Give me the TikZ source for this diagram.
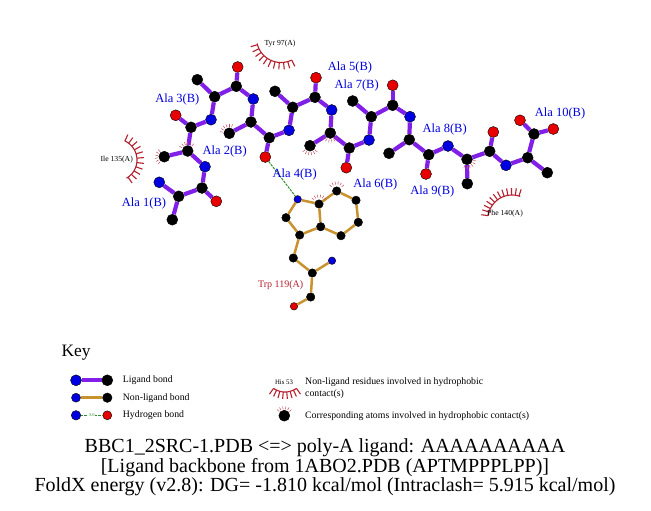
\documentclass[tikz,border=0pt]{standalone}
\usepackage{fontspec}
\setmainfont{Liberation Serif}
\definecolor{ligcol}{HTML}{7F1FE8}
\definecolor{nonligcol}{HTML}{C8922E}
\definecolor{arccol}{HTML}{B4202E}
\definecolor{atomblue}{HTML}{0000E0}
\definecolor{atomred}{HTML}{E60000}
\definecolor{hbcol}{HTML}{2E8B2E}
\tikzset{
	atomC/.style={shape=circle, draw=black, fill=black, inner sep=0pt, minimum size=11pt},
	atomN/.style={atomC, fill=atomblue},
	atomO/.style={atomC, fill=atomred},
	trpC/.style={atomC, minimum size=8.5pt},
	trpN/.style={atomN, minimum size=7.5pt},
	trpO/.style={atomO, minimum size=7.5pt},
	ligbond/.style={draw=ligcol, line width=4.2pt},
	nonligbond/.style={draw=nonligcol, line width=2.5pt},
	hbond/.style={draw=hbcol, dashed, dash pattern=on 2.5pt off 1pt, line width=1pt},
	reslabel/.style={text=atomblue, font=\fontsize{12.5}{13}\selectfont, inner sep=0pt, yshift=-1pt},
	hphoblabel/.style={text=black, font=\fontsize{7.7}{8}\selectfont, inner sep=0pt},
	keylabel/.style={anchor=west, inner sep=0pt, font=\fontsize{9.8}{10}\selectfont},
	titlelabel/.style={inner sep=0pt, font=\fontsize{20}{21}\selectfont, yshift=-1.5pt},
	hphobarc/.style={draw=arccol, line width=1.1pt},
	hphobtick/.style={draw=arccol!80, line width=0.5pt}
}
% residue side: centre x, centre y, radius, start and end angle, next angle
\newcommand{\residuearc}[6]{
	\draw[hphobarc] plot[domain=#4:#5, samples=24] ({#1+#3*cos(\x)},{#2+#3*sin(\x)});
	\foreach \ang in {#4,#6,...,#5}
		\draw[hphobarc] ({#1+#3*cos(\ang)},{#2+#3*sin(\ang)}) -- ({#1+(#3+7)*cos(\ang)},{#2+(#3+7)*sin(\ang)});
}
% ticks round an atom: node, centre angle
\newcommand{\atomticks}[2]{
	\foreach \ang in {-50,-30,...,50}
		\draw[hphobtick] (#1) ++(#2+\ang:6.5) -- ++(#2+\ang:3);
}
\begin{document}
\begin{tikzpicture}[x=1pt, y=-1pt]
	\useasboundingbox (0,0) rectangle (651,511);

	\node[atomN] (n1) at (159.3,182.3) {};
	\node[atomC] (ca1) at (178.7,196.3) {};
	\node[atomC] (cb1) at (172.3,219.7) {};
	\node[atomC] (c1) at (202,188) {};
	\node[atomO] (o1) at (216.3,201.3) {};
	\node[atomN] (n2) at (205,166.7) {};
	\node[atomC] (ca2) at (187.7,151) {};
	\node[atomC] (cb2) at (164.3,156.7) {};
	\node[atomC] (c2) at (191,127.3) {};
	\node[atomO] (o2) at (175.7,115.3) {};
	\node[atomN] (n3) at (211,119.7) {};
	\node[atomC] (ca3) at (214.7,96.7) {};
	\node[atomC] (cb3) at (197.3,79.7) {};
	\node[atomC] (c3) at (236.3,86.3) {};
	\node[atomO] (o3) at (237.7,67) {};
	\node[atomN] (n4) at (253.3,99) {};
	\node[atomC] (ca4) at (251,122) {};
	\node[atomC] (cb4) at (229.3,133.3) {};
	\node[atomC] (c4) at (269.3,137.7) {};
	\node[atomO] (o4) at (265.3,157) {};
	\node[atomN] (n5) at (289,130.3) {};
	\node[atomC] (ca5) at (292.7,107.3) {};
	\node[atomC] (cb5) at (275,91.3) {};
	\node[atomC] (c5) at (315,97.3) {};
	\node[atomO] (o5) at (316,77.7) {};
	\node[atomN] (n6) at (331.7,110) {};
	\node[atomC] (ca6) at (330.3,133) {};
	\node[atomC] (cb6) at (310,145.7) {};
	\node[atomC] (c6) at (349.3,148) {};
	\node[atomO] (o6) at (346.3,167.7) {};
	\node[atomN] (n7) at (369,140) {};
	\node[atomC] (ca7) at (371.3,116.7) {};
	\node[atomC] (cb7) at (352.7,101) {};
	\node[atomC] (c7) at (392.7,105.3) {};
	\node[atomO] (o7) at (392.7,85.3) {};
	\node[atomN] (n8) at (410,116.7) {};
	\node[atomC] (ca8) at (409.3,139.7) {};
	\node[atomC] (cb8) at (389,153.3) {};
	\node[atomC] (c8) at (428.7,154.7) {};
	\node[atomO] (o8) at (426,174) {};
	\node[atomN] (n9) at (448,146) {};
	\node[atomC] (ca9) at (467,159.3) {};
	\node[atomC] (cb9) at (467.3,183.7) {};
	\node[atomC] (c9) at (489.7,151.3) {};
	\node[atomO] (o9) at (493.3,132) {};
	\node[atomN] (n10) at (506,165.3) {};
	\node[atomC] (ca10) at (527.7,157.7) {};
	\node[atomC] (cb10) at (547.3,172.7) {};
	\node[atomC] (c10) at (534,134) {};
	\node[atomO] (o10) at (520,120.3) {};
	\node[atomO] (oxt) at (553.3,129) {};

	\foreach \i in {1,...,10} {
		\path [ligbond] (n\i) edge (ca\i);
		\path [ligbond] (ca\i) edge (cb\i);
		\path [ligbond] (ca\i) edge (c\i);
		\path [ligbond] (c\i) edge (o\i);
	}
	\foreach \i/\j in {1/2,2/3,3/4,4/5,5/6,6/7,7/8,8/9,9/10}
		\path [ligbond] (c\i) edge (n\j);
	\path [ligbond] (c10) edge (oxt);

	\node[trpN] (ne1) at (297.7,199.3) {};
	\node[trpC] (cd1) at (286,217.7) {};
	\node[trpC] (cg) at (299.7,235) {};
	\node[trpC] (cd2) at (320.7,226.7) {};
	\node[trpC] (ce2) at (319,204) {};
	\node[trpC] (cz2) at (336.7,191) {};
	\node[trpC] (ch2) at (356,200.3) {};
	\node[trpC] (cz3) at (358.3,222.3) {};
	\node[trpC] (ce3) at (341,235.7) {};
	\node[trpC] (cbt) at (293.3,258) {};
	\node[trpC] (cat) at (312.3,273) {};
	\node[trpN] (nt) at (332,260.7) {};
	\node[trpC] (ct) at (310.7,297) {};
	\node[trpO] (ot) at (294,306.3) {};

	\foreach \a/\b in {ne1/cd1,cd1/cg,cg/cd2,cd2/ce2,ce2/ne1,ce2/cz2,cz2/ch2,ch2/cz3,cz3/ce3,ce3/cd2,cg/cbt,cbt/cat,cat/nt,cat/ct,ct/ot}
		\path [nonligbond] (\a) edge (\b);
	\path [hbond] (o4) edge (ne1);

	\node[reslabel] (lab1) at (144,202.3) {Ala 1(B)};
	\node[reslabel] (lab2) at (224.7,150.3) {Ala 2(B)};
	\node[reslabel] (lab3) at (177.3,98.3) {Ala 3(B)};
	\node[reslabel] (lab4) at (294.7,173.7) {Ala 4(B)};
	\node[reslabel] (lab5) at (350,66) {Ala 5(B)};
	\node[reslabel] (lab6) at (375.3,183.7) {Ala 6(B)};
	\node[reslabel] (lab7) at (356.7,84.3) {Ala 7(B)};
	\node[reslabel] (lab8) at (444.7,128.3) {Ala 8(B)};
	\node[reslabel] (lab9) at (432.3,190.7) {Ala 9(B)};
	\node[reslabel] (lab10) at (560,112.5) {Ala 10(B)};
	\node[reslabel, text=arccol, font=\fontsize{10}{10}\selectfont] (labtrp) at (280.7,284) {Trp 119(A)};

	\residuearc{281}{38}{24.5}{64}{167}{74}
	\residuearc{116}{160}{21}{-65}{60}{-53}
	\residuearc{512}{219}{24}{188}{290}{197}
	\node[hphoblabel] (tyr) at (280,44) {Tyr 97(A)};
	\node[hphoblabel] (ile) at (116.7,159.7) {Ile 135(A)};
	\node[hphoblabel] (phe) at (505,213.3) {Phe 140(A)};

	\atomticks{cb2}{180}
	\atomticks{ca2}{-100}
	\atomticks{cb4}{-120}
	\atomticks{cb6}{90}
	\atomticks{ca6}{90}
	\atomticks{ca9}{60}
	\atomticks{ce2}{-90}
	\atomticks{cz2}{-90}

	% key
	\node[inner sep=0pt, font=\fontsize{17.4}{18}\selectfont] (key) at (76,352.5) {Key};
	\node[atomN] (k1a) at (76,380.3) {};
	\node[atomC] (k1b) at (107.3,380.3) {};
	\node[atomN, minimum size=9pt] (k2a) at (76,397.7) {};
	\node[atomC, minimum size=9.5pt] (k2b) at (107.3,397.7) {};
	\node[atomN, minimum size=9.5pt] (k3a) at (76,415.3) {};
	\node[atomO, minimum size=9pt] (k3b) at (107.3,415.3) {};
	\path [ligbond] (k1a) edge (k1b);
	\path [nonligbond] (k2a) edge (k2b);
	\path [hbond] (k3a) edge node[fill=white, inner sep=0.5pt, text=hbcol, font=\fontsize{4.5}{5}\selectfont] {3.0} (k3b);
	\node[keylabel] (t1) at (122.7,380.3) {Ligand bond};
	\node[keylabel] (t2) at (122.7,397.7) {Non-ligand bond};
	\node[keylabel] (t3) at (122.7,415.3) {Hydrogen bond};

	\residuearc{285}{372}{20}{55}{125}{65}
	\node[hphoblabel, font=\fontsize{6.8}{7}\selectfont] (his) at (284,382.3) {His 53};
	\node[atomC] (k4) at (284.3,415.7) {};
	\atomticks{k4}{-90}
	\node[keylabel] (t4) at (305,382.3) {Non-ligand residues involved in hydrophobic};
	\node[keylabel] (t5) at (305,394) {contact(s)};
	\node[keylabel] (t6) at (305,415.7) {Corresponding atoms involved in hydrophobic contact(s)};

	\node[titlelabel] (title1) at (325,446) {BBC1\_2SRC-1.PDB <=> poly-A ligand: AAAAAAAAAA};
	\node[titlelabel] (title2) at (325,466) {[Ligand backbone from 1ABO2.PDB (APTMPPPLPP)]};
	\node[titlelabel] (title3) at (325,485) {FoldX energy (v2.8): DG= -1.810 kcal/mol (Intraclash= 5.915 kcal/mol)};
\end{tikzpicture}
\end{document}
